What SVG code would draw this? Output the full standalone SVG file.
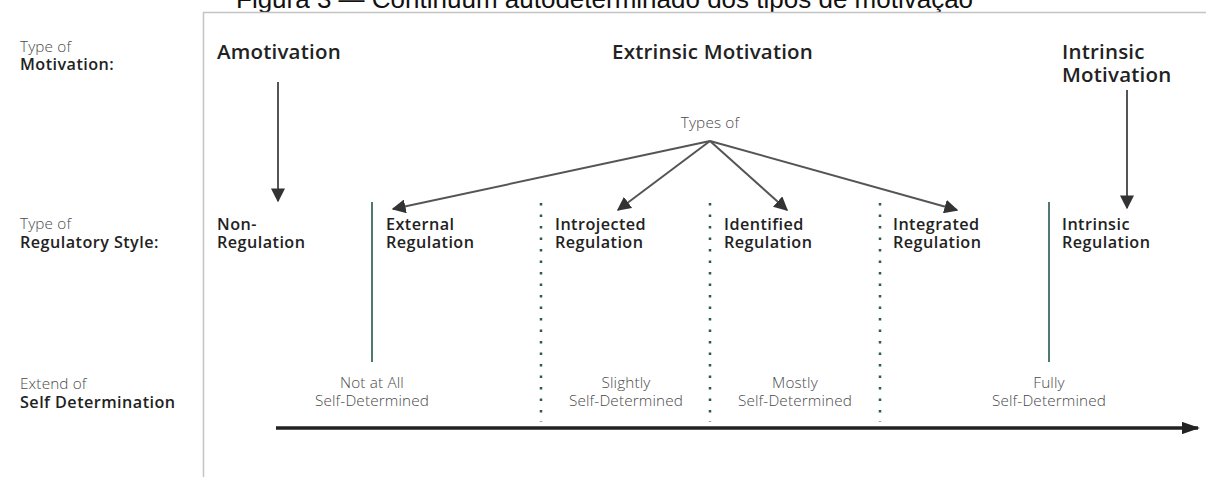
<svg xmlns="http://www.w3.org/2000/svg" width="1206" height="477" viewBox="0 0 1206 477">
  <style>
    .title { font-family: "Liberation Sans", Arial, sans-serif; font-size: 26px; fill: #111; }
    .hd { font-family: "Open Sans", "Noto Sans", sans-serif; font-weight: 600; font-size: 20.5px; letter-spacing: 0.2px; fill: #222; }
    .lb { font-family: "Open Sans", "Noto Sans", sans-serif; font-weight: 600; font-size: 16.2px; letter-spacing: 0.45px; fill: #222; }
    .lt { font-family: "Open Sans", "Noto Sans", sans-serif; font-weight: 300; font-size: 15.3px; letter-spacing: 0.15px; fill: #4a4a4a; }
    .mid { text-anchor: middle; }
    .frame { stroke: #c4c4c4; stroke-width: 1.5; fill: none; }
    .solid { stroke: #4f7a72; stroke-width: 2; }
    .dots { stroke: #2d5a50; stroke-width: 2.5; stroke-dasharray: 2.5 9; }
    .arr { stroke: #555; stroke-width: 2; fill: none; marker-end: url(#head); }
    .axis { stroke: #222; stroke-width: 3.5; fill: none; marker-end: url(#bighead); }
  </style>
  <defs>
    <marker id="head" viewBox="0 0 10 10" refX="9" refY="5" markerWidth="7" markerHeight="7" markerUnits="strokeWidth" orient="auto">
      <path d="M0,0 L10,5 L0,10 z" fill="#333"/>
    </marker>
    <marker id="bighead" viewBox="0 0 10 10" refX="9" refY="5" markerWidth="5.2" markerHeight="3.6" markerUnits="strokeWidth" orient="auto" preserveAspectRatio="none">
      <path d="M0,0 L10,5 L0,10 z" fill="#222"/>
    </marker>
  </defs>

  <!-- caption and frame -->
  <text class="title" x="236" y="7.5">Figura 3 — Continuum autodeterminado dos tipos de motivação</text>
  <path class="frame" d="M203.5,477 V12.5 H1206"/>

  <!-- row captions -->
  <g id="row-motivation">
    <text class="lt" x="20" y="52">Type of</text>
    <text class="lb" x="20" y="70">Motivation:</text>
  </g>
  <g id="row-regulatory">
    <text class="lt" x="20" y="229">Type of</text>
    <text class="lb" x="20" y="247.5">Regulatory Style:</text>
  </g>
  <g id="row-self">
    <text class="lt" x="20" y="389">Extend of</text>
    <text class="lb" x="20" y="407.5">Self Determination</text>
  </g>

  <!-- motivation types -->
  <g id="amotivation"><text class="hd" x="217" y="59">Amotivation</text></g>
  <g id="extrinsic"><text class="hd" x="612" y="59">Extrinsic Motivation</text></g>
  <g id="intrinsic">
    <text class="hd" x="1062" y="59">Intrinsic</text>
    <text class="hd" x="1062" y="82">Motivation</text>
  </g>
  <g id="types-of"><text class="lt mid" x="710" y="128">Types of</text></g>

  <!-- regulatory styles -->
  <g id="non-regulation">
    <text class="lb" x="217" y="229.5">Non-</text>
    <text class="lb" x="217" y="248">Regulation</text>
  </g>
  <g id="external-regulation">
    <text class="lb" x="386" y="229.5">External</text>
    <text class="lb" x="386" y="248">Regulation</text>
  </g>
  <g id="introjected-regulation">
    <text class="lb" x="555" y="229.5">Introjected</text>
    <text class="lb" x="555" y="248">Regulation</text>
  </g>
  <g id="identified-regulation">
    <text class="lb" x="724" y="229.5">Identified</text>
    <text class="lb" x="724" y="248">Regulation</text>
  </g>
  <g id="integrated-regulation">
    <text class="lb" x="893" y="229.5">Integrated</text>
    <text class="lb" x="893" y="248">Regulation</text>
  </g>
  <g id="intrinsic-regulation">
    <text class="lb" x="1062" y="229.5">Intrinsic</text>
    <text class="lb" x="1062" y="248">Regulation</text>
  </g>

  <!-- degrees of self-determination -->
  <g id="not-at-all">
    <text class="lt mid" x="372" y="388">Not at All</text>
    <text class="lt mid" x="372" y="405.5">Self-Determined</text>
  </g>
  <g id="slightly">
    <text class="lt mid" x="626" y="388">Slightly</text>
    <text class="lt mid" x="626" y="405.5">Self-Determined</text>
  </g>
  <g id="mostly">
    <text class="lt mid" x="795" y="388">Mostly</text>
    <text class="lt mid" x="795" y="405.5">Self-Determined</text>
  </g>
  <g id="fully">
    <text class="lt mid" x="1049" y="388">Fully</text>
    <text class="lt mid" x="1049" y="405.5">Self-Determined</text>
  </g>

  <!-- separators, arrows and the continuum axis -->
  <g id="connectors">
    <line class="solid" x1="372" y1="202" x2="372" y2="362"/>
    <line class="solid" x1="1049" y1="202" x2="1049" y2="362"/>
    <line class="dots" x1="541" y1="203" x2="541" y2="422"/>
    <line class="dots" x1="710" y1="203" x2="710" y2="422"/>
    <line class="dots" x1="880" y1="203" x2="880" y2="422"/>

    <line class="arr" x1="278" y1="82" x2="278" y2="201"/>
    <line class="arr" x1="1127" y1="90" x2="1127" y2="208"/>

    <line class="arr" x1="710" y1="141" x2="393" y2="209"/>
    <line class="arr" x1="710" y1="141" x2="618" y2="210"/>
    <line class="arr" x1="710" y1="141" x2="787" y2="210"/>
    <line class="arr" x1="710" y1="141" x2="957" y2="210"/>

    <line class="axis" x1="276" y1="428" x2="1198" y2="428"/>
  </g>
</svg>
